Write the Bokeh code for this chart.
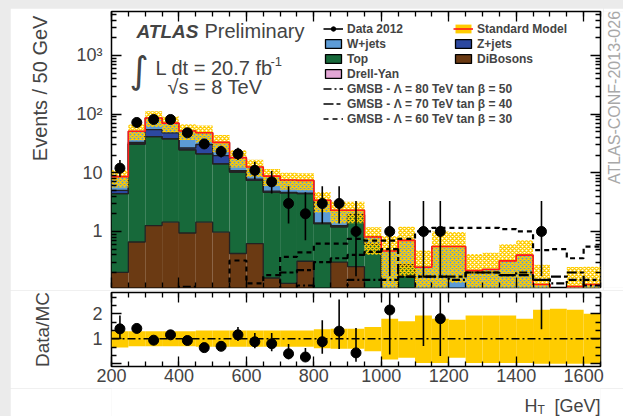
import math
import numpy as np
from bokeh.plotting import figure
from bokeh.layouts import column, row
from bokeh.models import (Range1d, LinearAxis, LogAxis, FixedTicker, Label, Legend,
                          LegendItem, Span, CustomJSTickFormatter)
from bokeh.embed import file_html
from bokeh.resources import INLINE

# ---------------- data ----------------
edges = [200 + 50 * i for i in range(30)]
centers = [225 + 50 * i for i in range(29)]

dibosons = [0.20, 0.66, 1.26, 1.44, 0.94, 1.44, 0.97, 0.42, 0.62, 0.16, 0.13, 0.31, 0.005, 0.30, 0.25,
            0.005, 0.005, 0.005, 0.005, 0.005, 0.005, 0.005, 0.005, 0.005, 0.005, 0.005, 0.005, 0.005, 0.005]
top = [4.2, 30.3, 40.2, 36.6, 23.7, 19.6, 13.2, 9.9, 6.8, 4.5, 4.4, 4.1, 1.35, 0.9, 1.65,
       0.6, 0.05, 0.25, 0.05, 0.05, 0.05, 0.05, 0.05, 0.05, 0.05, 0.01, 0.005, 0.01, 0.01]
drellyan = [0.0] * 29
zjets = [0.6, 2.0, 13.0, 10.0, 1.8, 9.3, 5.5, 0.5, 0.4, 0.2, 0.1, 0.1, 0.05, 0.05, 0.05,
         0.02, 0.02, 0.02, 0.02, 0.02, 0.02, 0.02, 0.02, 0.02, 0.02, 0.01, 0.005, 0.01, 0.01]
wjets = [3.6, 18.0, 31.5, 22.0, 25.2, 17.7, 13.3, 7.3, 4.7, 3.9, 2.9, 2.9, 2.0, 1.05, 0.35,
         0.18, 0.39, 0.43, 0.17, 0.48, 0.48, 0.14, 0.15, 0.24, 0.32, 0.10, 0.02, 0.09, 0.10]
data = [12, 72, 81, 81, 48, 31, 23, 21, 11, 7, 3, 2, 3, 3, 1,
        0, 1, 0, 1, 1, 0, 0, 0, 0, 0, 1, 0, 0, 0]
band_up = [1.30, 1.30, 1.30, 1.30, 1.30, 1.33, 1.33, 1.33, 1.33, 1.33, 1.33, 1.33, 1.38, 1.40, 1.40,
           1.47, 1.80, 1.70, 1.93, 1.80, 1.76, 1.93, 1.93, 1.93, 1.80, 2.16, 2.20, 2.16, 2.00]
band_dn = [0.65, 0.70, 0.70, 0.70, 0.70, 0.68, 0.68, 0.68, 0.68, 0.68, 0.68, 0.68, 0.62, 0.60, 0.60,
           0.50, 0.17, 0.24, 0.03, 0.03, 0.24, 0.03, 0.03, 0.03, 0.03, 0.0, 0.0, 0.0, 0.0]
nan = float("nan")
gmsb80 = [nan, nan, nan, nan, 0.114, nan, nan, nan, nan, nan, nan, 0.12, nan, nan, 0.15,
          0.15, 0.15, 0.17, 0.17, 0.17, 0.15, 0.2, 0.2, 0.18, 0.2, 0.15, 0.13, 0.15, 0.12]
gmsb70 = [nan, nan, nan, nan, nan, nan, nan, nan, nan, nan, 0.2, 0.22, 0.3, 0.35, 0.4,
          0.45, 0.5, 0.17, 0.17, 0.17, 0.17, 0.2, 0.2, 0.18, 0.18, 0.15, 0.17, 0.2, 0.15]
gmsb60 = [nan, nan, nan, nan, nan, nan, nan, 0.32, 0.13, 0.18, 0.37, 0.44, 0.62, 0.62, 0.75,
          0.7, 0.7, 0.75, 1.0, 1.15, 1.15, 1.15, 1.15, 1.1, 1.0, 0.48, 0.5, 0.35, 0.55]

# ---------------- styling ----------------
FONT = "Liberation Sans"
C_W = "#5c9bd6"
C_Z = "#2c48a0"
C_TOP = "#17693a"
C_DY = "#e3a6d5"
C_DB = "#6b3a13"
C_YEL = "#ffcc00"
C_RED = "#ff1a1a"
LOW = 1e-3
NB = "\u00a0"

comp_vals = [dibosons, top, drellyan, zjets, wjets]
comp_cols = [C_DB, C_TOP, C_DY, C_Z, C_W]
sm = np.sum(np.array(comp_vals), axis=0)


def pois_cdf(k, mu):
    t = math.exp(-mu)
    s = t
    for i in range(1, k + 1):
        t *= mu / i
        s += t
    return s


def solve(f, target, lo, hi):
    for _ in range(80):
        mid = 0.5 * (lo + hi)
        if f(mid) > target:
            lo = mid
        else:
            hi = mid
    return 0.5 * (lo + hi)


def garwood(n):
    a = 0.158655
    up = solve(lambda m: pois_cdf(n, m), a, 0.0, n + 60.0)
    lo = 0.0 if n == 0 else solve(lambda m: pois_cdf(n - 1, m), 1 - a, 0.0, n + 60.0)
    return lo, up


BLANK = CustomJSTickFormatter(code="return ''")


def tick_style(ax, labels=True):
    ax.major_tick_in = 10
    ax.major_tick_out = 0
    ax.minor_tick_in = 5
    ax.minor_tick_out = 0
    ax.axis_line_color = None
    ax.major_tick_line_width = 1.3
    ax.minor_tick_line_width = 1.3
    if not labels:
        ax.formatter = BLANK
        ax.major_label_standoff = 0


def lab(fig, x, y, text, **kw):
    fig.add_layout(Label(x=x, y=y, x_units="screen", y_units="screen", text=text, **kw))


def blank_fig(w, h, margin, bl=0, br=0, bt=0, bb=0):
    f = figure(width=w, height=h, x_range=Range1d(0, 1), y_range=Range1d(0, 1),
               output_backend="svg", toolbar_location=None, x_axis_location=None,
               y_axis_location=None, min_border_left=bl, min_border_right=br,
               min_border_top=bt, min_border_bottom=bb)
    f.margin = margin
    f.grid.visible = False
    f.outline_line_color = None
    f.border_fill_color = "white"
    f.background_fill_color = "white"
    return f


# ---------------- main panel (window: frame x 111..600, y 11..287) ----------------
p = figure(width=593, height=282, x_range=Range1d(200, 1650), y_range=Range1d(0.111, 5600),
           y_axis_type="log", output_backend="svg", toolbar_location=None,
           min_border_left=101, min_border_right=3, min_border_top=3, min_border_bottom=3)
p.margin = (8, 0, 0, 10)
p.grid.visible = False
p.outline_line_color = "black"
p.outline_line_width = 1.5
p.border_fill_color = "white"

left = edges[:-1]
right = edges[1:]
cum = np.full(29, LOW)
tops = []
for vals, col in zip(comp_vals, comp_cols):
    bottom = cum.copy()
    cum = cum + np.array(vals)
    tops.append(cum.copy())
    p.quad(left=left, right=right, bottom=bottom, top=cum.copy(), fill_color=col, line_color=None)
for t in tops:
    p.step(x=edges, y=list(t) + [t[-1]], mode="after", line_color="#222222", line_width=1.3)

band_lo = [max(s * d, LOW) for s, d in zip(sm, band_dn)]
band_hi = [s * u for s, u in zip(sm, band_up)]
p.quad(left=left, right=right, bottom=band_lo, top=band_hi, fill_alpha=0, line_color=None,
       hatch_pattern="diagonal_cross", hatch_color=C_YEL, hatch_scale=4, hatch_weight=1.5)
p.step(x=edges, y=list(sm) + [sm[-1]], mode="after", line_color=C_RED, line_width=1.6)

gstyles = [(gmsb80, "8 3 2 3"), (gmsb70, "10 3 4 3"), (gmsb60, "5 4")]
for g, dash in gstyles:
    gy = [v if v == v else LOW for v in g]
    p.step(x=edges, y=gy + [gy[-1]], mode="after", line_color="black", line_width=2.2,
           line_dash=dash)

dx, dy, elo, ehi = [], [], [], []
rx, ry, rlo, rhi = [], [], [], []
for c, n, s in zip(centers, data, sm):
    if n <= 0:
        continue
    lo, up = garwood(n)
    dx.append(c); dy.append(n); elo.append(max(lo, LOW)); ehi.append(up)
    rx.append(c); ry.append(n / s); rlo.append(lo / s); rhi.append(up / s)
p.segment(x0=dx, y0=elo, x1=dx, y1=ehi, line_color="black", line_width=1.6)
p.scatter(x=dx, y=dy, size=10, color="black")

minor_log = [m * 10 ** e for e in range(-1, 4) for m in range(2, 10)]
p.yaxis.ticker = FixedTicker(ticks=[1, 10, 100, 1000], minor_ticks=minor_log)
p.yaxis.major_label_overrides = {1: "1", 10: "10", 100: "10²", 1000: "10³"}
xt = FixedTicker(ticks=[200, 400, 600, 800, 1000, 1200, 1400, 1600],
                 minor_ticks=list(range(200, 1651, 50)))
p.xaxis.ticker = xt
tick_style(p.xaxis[0], labels=False)
tick_style(p.yaxis[0])
p.yaxis.major_label_text_font = FONT
p.yaxis.major_label_text_font_size = "18px"
p.yaxis.major_label_standoff = 9
p.yaxis.axis_label = NB * 22 + "Events / 50 GeV"
p.yaxis.axis_label_text_font = FONT
p.yaxis.axis_label_text_font_size = "20px"
p.yaxis.axis_label_text_font_style = "normal"
p.yaxis.axis_label_standoff = 22

ax_top = LinearAxis(ticker=xt)
tick_style(ax_top, labels=False)
p.add_layout(ax_top, "above")
ax_right = LogAxis(ticker=FixedTicker(ticks=[1, 10, 100, 1000], minor_ticks=minor_log))
tick_style(ax_right, labels=False)
p.add_layout(ax_right, "right")

# legend (dummy renderers, placed below the visible range)
def dummy_box(col, line="black"):
    return p.quad(left=[0], right=[0], bottom=[LOW], top=[LOW], fill_color=col, line_color=line,
                  line_width=1.3)

r_dline = p.line(x=[0, 0], y=[LOW, LOW], line_color="black", line_width=1.6)
r_dpt = p.scatter(x=[0], y=[LOW], size=9, color="black")
items1 = [
    LegendItem(label="Data 2012", renderers=[r_dline, r_dpt]),
    LegendItem(label="W+jets", renderers=[dummy_box(C_W)]),
    LegendItem(label="Top", renderers=[dummy_box(C_TOP)]),
    LegendItem(label="Drell-Yan", renderers=[dummy_box(C_DY)]),
]
for text, (g, dash) in zip(["GMSB - Λ = 80 TeV tan β = 50", "GMSB - Λ = 70 TeV tan β = 40",
                            "GMSB - Λ = 60 TeV tan β = 30"], gstyles):
    rl = p.line(x=[0, 0], y=[LOW, LOW], line_color="black", line_width=1.3, line_dash=dash)
    items1.append(LegendItem(label=text, renderers=[rl]))
r_smbox = p.quad(left=[0], right=[0], bottom=[LOW], top=[LOW], fill_color=C_YEL, line_color=None)
r_smline = p.line(x=[0, 0], y=[LOW, LOW], line_color=C_RED, line_width=1.6)
items2 = [
    LegendItem(label="Standard Model", renderers=[r_smbox, r_smline]),
    LegendItem(label="Z+jets", renderers=[dummy_box(C_Z)]),
    LegendItem(label="DiBosons", renderers=[dummy_box(C_DB)]),
]
for items, loc in [(items1, (212, 161)), (items2, (342, 221))]:
    lg = Legend(items=items, location=loc, orientation="vertical",
                label_text_font=FONT, label_text_font_size="12px",
                label_text_font_style="bold", glyph_width=20, glyph_height=11,
                label_height=15, label_standoff=4, spacing=0, padding=0, margin=0,
                background_fill_alpha=0, border_line_alpha=0)
    p.add_layout(lg, "center")


def sx(px):
    return px - 111


def sy(py):
    return 287 - py


lab(p, sx(136), sy(41), "ATLAS", text_font=FONT, text_font_style="bold italic", text_font_size="19px")
lab(p, sx(204), sy(41), "Preliminary", text_font=FONT, text_font_size="20px")
lab(p, sx(129), sy(91), "∫", text_font="DejaVu Sans", text_font_size="37px")
lab(p, sx(155), sy(78), "L dt = 20.7 fb", text_font=FONT, text_font_size="20px")
lab(p, sx(270), sy(65), "-1", text_font=FONT, text_font_size="13px")
lab(p, sx(167), sy(97), "√s = 8 TeV", text_font=FONT, text_font_size="20px")

# side strip with the conference note id (window x 603..623, frame y 11..287)
s = blank_fig(20, 282, (8, 0, 0, 0), bt=3, bb=3)
lab(s, 11, 287 - 97, "ATLAS-CONF-2013-026", text_font=FONT, text_font_size="16px",
    text_color="#a8a8a8", angle=math.pi / 2, text_align="center", text_baseline="middle")

# ---------------- ratio panel (window: frame y 292..366, canvas 290..388) ----------------
r = figure(width=613, height=98, x_range=p.x_range, y_range=Range1d(-0.11, 2.85),
           output_backend="svg", toolbar_location=None,
           min_border_left=101, min_border_right=23, min_border_top=2, min_border_bottom=22)
r.margin = (0, 0, 0, 10)
r.grid.visible = False
r.outline_line_color = "black"
r.outline_line_width = 1.5
r.border_fill_color = "white"

r.quad(left=left, right=right, bottom=band_dn, top=band_up, fill_color=C_YEL, line_color=None)
r.add_layout(Span(location=1, dimension="width", line_color="black", line_width=1.3,
                  line_dash="8 3 2 3"))
r.segment(x0=rx, y0=rlo, x1=rx, y1=rhi, line_color="black", line_width=1.6)
r.scatter(x=rx, y=ry, size=10, color="black")

ryt = FixedTicker(ticks=[0, 1, 2], minor_ticks=[1 / 3, 2 / 3, 4 / 3, 5 / 3, 7 / 3, 8 / 3])
r.xaxis.ticker = xt
r.yaxis.ticker = ryt
r.yaxis.major_label_overrides = {0: "", 1: "1", 2: "2"}
for ax in [r.xaxis[0], r.yaxis[0]]:
    tick_style(ax)
    ax.major_label_text_font = FONT
    ax.major_label_text_font_size = "18px"
r.xaxis.major_label_standoff = 2
r.yaxis.major_label_standoff = 9
r.yaxis.axis_label = "Data/MC"
r.yaxis.axis_label_text_font = FONT
r.yaxis.axis_label_text_font_size = "19px"
r.yaxis.axis_label_text_font_style = "normal"
r.yaxis.axis_label_standoff = 36
ax_top2 = LinearAxis(ticker=xt)
tick_style(ax_top2, labels=False)
r.add_layout(ax_top2, "above")
ax_right2 = LinearAxis(ticker=ryt)
tick_style(ax_right2, labels=False)
r.add_layout(ax_right2, "right")

# bottom strip with the x-axis title (window y 388..416, frame x 111..600)
b = blank_fig(613, 28, (0, 0, 0, 10), bl=101, br=23)
lab(b, 524 - 111, 416 - 405, "H", text_font=FONT, text_font_size="18px",
    text_baseline="alphabetic")
lab(b, 537 - 111, 416 - 409, "T", text_font=FONT, text_font_size="12px",
    text_baseline="alphabetic")
lab(b, 600 - 111, 416 - 405, "[GeV]", text_font=FONT, text_font_size="18px", text_align="right",
    text_baseline="alphabetic")

layout = column(row(p, s), r, b, styles={"background-color": "#ebebeb"})
open("out.html", "w").write(file_html(layout, INLINE))
